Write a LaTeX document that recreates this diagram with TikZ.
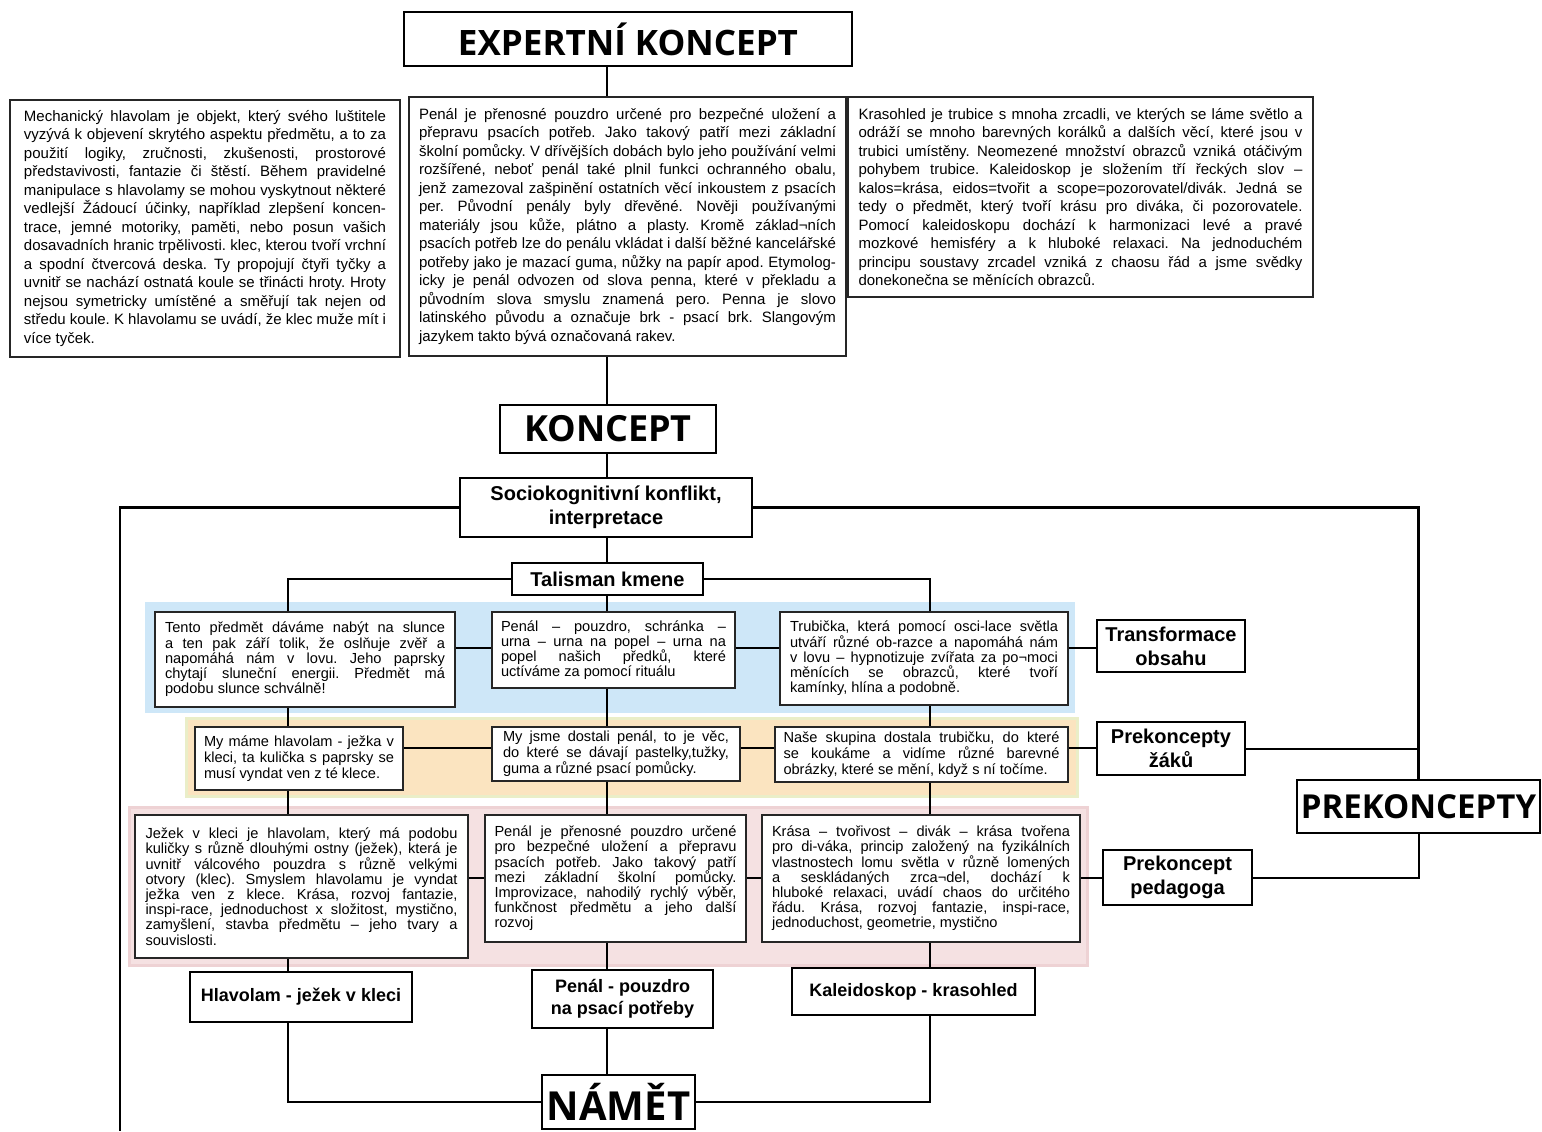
\documentclass[tikz,border=0pt]{standalone}
\usepackage{fontspec}
\setmainfont{Liberation Sans}
\newfontfamily\headfont{Open Sans}
\usepackage{xcolor}
\usepackage{tikz}
\usetikzlibrary{positioning, calc}

\definecolor{bandblue}{RGB}{206,231,248}
\definecolor{bandorange}{RGB}{251,228,192}
\definecolor{bandorangeedge}{RGB}{234,238,200}
\definecolor{bandpink}{RGB}{245,225,226}
\definecolor{bandpinkedge}{RGB}{238,210,212}

\newcommand{\topfont}{\fontsize{7.5}{9.25}\selectfont}
\newcommand{\lowfont}{\fontsize{7.3}{7.6}\selectfont}
\tolerance=10000
\frenchspacing

\begin{document}
\begin{tikzpicture}[
    x=0.5pt, y=-0.5pt,
    txt box/.style={draw=black!85, line width=0.9pt, fill=white, inner xsep=2pt, inner ysep=2pt, align=justify},
    top box/.style={txt box, font=\topfont},
    low box/.style={txt box, font=\lowfont},
    label box/.style={draw, line width=1pt, fill=white, align=center, inner sep=2pt, font=\bfseries\fontsize{10}{12}\selectfont},
    name box/.style={draw, line width=1pt, fill=white, align=center, inner sep=2pt, font=\bfseries\fontsize{9}{11}\selectfont},
    title box/.style={draw, line width=1pt, fill=white, inner sep=2pt, font=\headfont\bfseries\fontsize{#1}{#1}\selectfont},
    link/.style={line width=1pt},
    frame line/.style={line width=1.4pt}
]

\tikzset{box wh/.style 2 args={minimum width=#1pt, minimum height=#2pt}}

\fill[white] (0,0) rectangle (1542,1131);
\useasboundingbox (0,0) rectangle (1542,1131);

% --- 1. Colour bands ---
\fill[bandblue] (145,602) rectangle (1075,713);
\draw[bandorangeedge, line width=1.5pt, fill=bandorange] (186,718) rectangle (1077,796);
\draw[bandpinkedge, line width=1.5pt, fill=bandpink] (129,807) rectangle (1087,965);

% --- 2. Expert concept ---
\node[title box=17.5, box wh={224}{27}] (expert) at (628,39) {EXPERTNÍ KONCEPT};

\node[top box, box wh={195}{128.5}, text width=181pt] (leftTop) at (205,228.5) {%
Mechanický hlavolam je objekt, který svého luštitele\linebreak
vyzývá k objevení skrytého aspektu předmětu, a to za\linebreak
použití logiky, zručnosti, zkušenosti, prostorové\linebreak
představivosti, fantazie či štěstí. Během pravidelné\linebreak
manipulace s hlavolamy se mohou vyskytnout některé\linebreak
vedlejší Žádoucí účinky, například zlepšení koncen-\linebreak
trace, jemné motoriky, paměti, nebo posun vašich\linebreak
dosavadních hranic trpělivosti. klec, kterou tvoří vrchní\linebreak
a spodní čtvercová deska. Ty propojují čtyři tyčky a\linebreak
uvnitř se nachází ostnatá koule se třinácti hroty. Hroty\linebreak
nejsou symetricky umístěné a směřují tak nejen od\linebreak
středu koule. K hlavolamu se uvádí, že klec muže mít i\linebreak
více tyček.};

\node[top box, box wh={218.5}{129.5}, text width=208.5pt] (midTop) at (627.5,226.5) {%
Penál je přenosné pouzdro určené pro bezpečné uložení a\linebreak
přepravu psacích potřeb. Jako takový patří mezi základní\linebreak
školní pomůcky. V dřívějších dobách bylo jeho používání velmi\linebreak
rozšířené, neboť penál také plnil funkci ochranného obalu,\linebreak
jenž zamezoval zašpinění ostatních věcí inkoustem z psacích\linebreak
per. Původní penály byly dřevěné. Nověji používanými\linebreak
materiály jsou kůže, plátno a plasty. Kromě základ¬ních\linebreak
psacích potřeb lze do penálu vkládat i další běžné kancelářské\linebreak
potřeby jako je mazací guma, nůžky na papír apod. Etymolog-\linebreak
icky je penál odvozen od slova penna, které v překladu a\linebreak
původním slova smyslu znamená pero. Penna je slovo\linebreak
latinského původu a označuje brk - psací brk. Slangovým\linebreak
jazykem takto bývá označovaná rakev.};

\node[top box, box wh={232.5}{100}, text width=222pt] (rightTop) at (1080.5,197) {%
Krasohled je trubice s mnoha zrcadli, ve kterých se láme světlo a\linebreak
odráží se mnoho barevných korálků a dalších věcí, které jsou v\linebreak
trubici umístěny. Neomezené množství obrazců vzniká otáčivým\linebreak
pohybem trubice. Kaleidoskop je složením tří řeckých slov –\linebreak
kalos=krása, eidos=tvořit a scope=pozorovatel/divák. Jedná se\linebreak
tedy o předmět, který tvoří krásu pro diváka, či pozorovatele.\linebreak
Pomocí kaleidoskopu dochází k harmonizaci levé a pravé\linebreak
mozkové hemisféry a k hluboké relaxaci. Na jednoduchém\linebreak
principu soustavy zrcadel vzniká z chaosu řád a jsme svědky\linebreak
donekonečna se měnících obrazců.};

% --- 3. Koncept ---
\node[title box=18, box wh={108}{24}] (koncept) at (608,429) {KONCEPT};
\node[label box, box wh={146}{29.5}] (socio) at (606,507.5) {Sociokognitivní konflikt,\\interpretace};
\node[label box, box wh={95.5}{16}] (talisman) at (607.5,579) {Talisman kmene};

% --- 4. Transformace obsahu (blue row) ---
\node[low box, box wh={150}{47.5}, text width=140pt] (blueL) at (305,659.5) {%
Tento předmět dáváme nabýt na slunce\linebreak
a ten pak září tolik, že oslňuje zvěř a\linebreak
napomáhá nám v lovu. Jeho paprsky\linebreak
chytají sluneční energii. Předmět má\linebreak
podobu slunce schválně!};
\node[low box, box wh={121.5}{38}, text width=112.5pt] (blueM) at (613.5,650) {%
Penál – pouzdro, schránka –\linebreak
urna – urna na popel – urna na\linebreak
popel našich předků, které\linebreak
uctíváme za pomocí rituálu};
\node[low box, box wh={144}{46.5}, text width=134pt] (blueR) at (924,658.5) {%
Trubička, která pomocí osci-lace světla\linebreak
utváří různé ob-razce a napomáhá nám\linebreak
v lovu – hypnotizuje zvířata za po¬moci\linebreak
měnících se obrazců, které tvoří\linebreak
kamínky, hlína a podobně.};
\node[label box, box wh={74}{26}] (transf) at (1171,646) {Transformace\\obsahu};

% --- 5. Prekoncepty žáků (orange row) ---
\node[low box, font=\fontsize{7.3}{8}\selectfont, box wh={104}{31.5}, text width=95pt] (oranL) at (299,758.5) {%
My máme hlavolam - ježka v\linebreak
kleci, ta kulička s paprsky se\linebreak
musí vyndat ven z té klece.};
\node[low box, font=\fontsize{7.3}{8}\selectfont, box wh={124}{27}, text width=113pt] (oranM) at (616,754) {%
My jsme dostali penál, to je věc,\linebreak
do které se dávají pastelky,tužky,\linebreak
guma a různé psací pomůcky.};
\node[low box, font=\fontsize{7.3}{8}\selectfont, box wh={146.5}{27.5}, text width=138pt] (oranR) at (921.5,754.5) {%
Naše skupina dostala trubičku, do které\linebreak
se koukáme a vidíme různé barevné\linebreak
obrázky, které se mění, když s ní točíme.};
\node[label box, box wh={74}{26.5}] (zaci) at (1171,748.5) {Prekoncepty\\žáků};

% --- 6. Prekoncept pedagoga (pink row) ---
\node[low box, box wh={166.5}{71.5}, text width=156pt] (pinkL) at (301.5,886.5) {%
Ježek v kleci je hlavolam, který má podobu\linebreak
kuličky s různě dlouhými ostny (ježek), která je\linebreak
uvnitř válcového pouzdra s různě velkými\linebreak
otvory (klec). Smyslem hlavolamu je vyndat\linebreak
ježka ven z klece. Krása, rozvoj fantazie,\linebreak
inspi-race, jednoduchost x složitost, mystično,\linebreak
zamyšlení, stavba předmětu – jeho tvary a\linebreak
souvislosti.};
\node[low box, box wh={130.5}{63.5}, text width=121pt] (pinkM) at (615.5,878.5) {%
Penál je přenosné pouzdro určené\linebreak
pro bezpečné uložení a přepravu\linebreak
psacích potřeb. Jako takový patří\linebreak
mezi základní školní pomůcky.\linebreak
Improvizace, nahodilý rychlý výběr,\linebreak
funkčnost předmětu a jeho další\linebreak
rozvoj};
\node[low box, box wh={159}{63.5}, text width=149pt] (pinkR) at (921,878.5) {%
Krása – tvořivost – divák – krása tvořena\linebreak
pro di-váka, princip založený na fyzikálních\linebreak
vlastnostech lomu světla v různě lomených\linebreak
a seskládaných zrca¬del, dochází k\linebreak
hluboké relaxaci, uvádí chaos do určitého\linebreak
řádu. Krása, rozvoj fantazie, inspi-race,\linebreak
jednoduchost, geometrie, mystično};
\node[label box, box wh={74.5}{27.5}] (pedag) at (1177.5,877.5) {Prekoncept\\pedagoga};

\node[title box=16.5, box wh={121.5}{26.5}] (prek) at (1418.5,806.5) {PREKONCEPTY};

% --- 7. Námět ---
\node[name box, box wh={111}{25}] (hlav) at (301,997) {Hlavolam - ježek v kleci};
\node[name box, box wh={90.5}{29}] (penal) at (622.5,999) {Penál - pouzdro\\na psací potřeby};
\node[name box, box wh={121.5}{23.5}] (kaleid) at (913.5,991.5) {Kaleidoskop - krasohled};
\node[title box=20, box wh={76.5}{27}] (namet) at (618.5,1102) {NÁMĚT};

% --- 8. Connectors ---
\coordinate (colL) at (288,0);
\coordinate (colM) at (607,0);
\coordinate (colR) at (930,0);
\coordinate (rowB) at (0,648);
\coordinate (rowO) at (0,748);
\coordinate (rowP) at (0,878);
\coordinate (frameBL) at (120,1131);

% middle spine
\foreach \a/\b in {expert/midTop, midTop/koncept, koncept/socio, socio/talisman,
                   talisman/blueM, blueM/oranM, oranM/pinkM, pinkM/penal, penal/namet}{
    \draw[link] (\a.south -| colM) -- (\b.north -| colM);
}

% left and right columns
\draw[link] (talisman.west) -| (blueL.north -| colL);
\draw[link] (talisman.east) -| (blueR.north -| colR);
\foreach \a/\b in {blueL/oranL, oranL/pinkL, pinkL/hlav}{
    \draw[link] (\a.south -| colL) -- (\b.north -| colL);
}
\foreach \a/\b in {blueR/oranR, oranR/pinkR, pinkR/kaleid}{
    \draw[link] (\a.south -| colR) -- (\b.north -| colR);
}
\draw[link] (hlav.south -| colL) |- (namet.west);
\draw[link] (kaleid.south -| colR) |- (namet.east);

% rows
\foreach \a/\b in {blueL/blueM, blueM/blueR, blueR/transf}{
    \draw[link] (\a.east |- rowB) -- (\b.west |- rowB);
}
\foreach \a/\b in {oranL/oranM, oranM/oranR, oranR/zaci}{
    \draw[link] (\a.east |- rowO) -- (\b.west |- rowO);
}
\foreach \a/\b in {pinkL/pinkM, pinkM/pinkR, pinkR/pedag}{
    \draw[link] (\a.east |- rowP) -- (\b.west |- rowP);
}

% frame and prekoncepty
\draw[frame line] (socio.west) -| (frameBL);
\draw[frame line] (socio.east) -| (prek.north);
\draw[link] (zaci.east) -| (prek.north);
\draw[link] (pedag.east) -| (prek.south);

\end{tikzpicture}
\end{document}
